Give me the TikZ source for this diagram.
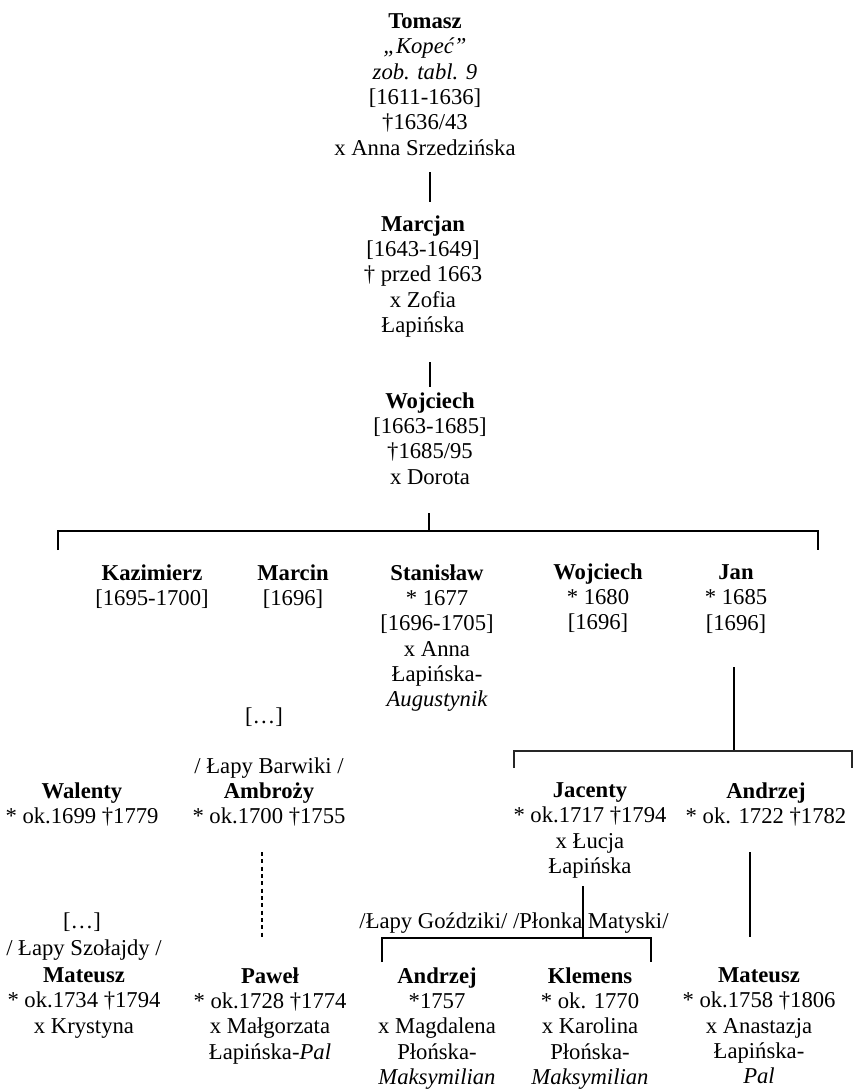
\documentclass[tikz,border=0pt]{standalone}
\usepackage{fontspec}
\setmainfont{Liberation Serif}
\begin{document}
\begin{tikzpicture}[x=0.75pt,y=-0.75pt,
  person/.style={align=center, anchor=north, inner sep=0pt, font=\fontsize{17}{19}\selectfont, execute at begin node=\strut},
  conn/.style={line width=0.9pt},
  bar/.style={line width=1.3pt},
  dashconn/.style={line width=0.9pt, dash pattern=on 3pt off 2.5pt}]
\useasboundingbox (0,0) rectangle (853,1089);
% persons
\node[person] (tomasz) at (425,13.3) {{\bfseries Tomasz}\\{\itshape „Kopeć”}\\{\itshape zob. tabl. 9}\\{[}1611-1636{]}\\†1636/43\\x Anna Srzedzińska};
\node[person] (marcjan) at (423,215.3) {{\bfseries Marcjan}\\{[}1643-1649{]}\\† przed 1663\\x Zofia\\Łapińska};
\node[person] (wojciech) at (430,392.3) {{\bfseries Wojciech}\\{[}1663-1685{]}\\†1685/95\\x Dorota};
\node[person] (kazimierz) at (152,564.3) {{\bfseries Kazimierz}\\{[}1695-1700{]}};
\node[person] (marcin) at (293,564.3) {{\bfseries Marcin}\\{[}1696{]}};
\node[person] (stanislaw) at (437,564.3) {{\bfseries Stanisław}\\* 1677\\{[}1696-1705{]}\\x Anna\\Łapińska-\\{\itshape Augustynik}};
\node[person] (wojciechb) at (598,563.3) {{\bfseries Wojciech}\\* 1680\\{[}1696{]}};
\node[person] (jan) at (736,564.3) {{\bfseries Jan}\\* 1685\\{[}1696{]}};
\node[person] (gapa) at (264,705.3) {{[}…{]}};
\node[person] (barwiki) at (269,755.3) {/ Łapy Barwiki /};
\node[person] (walenty) at (82,782.3) {{\bfseries Walenty}\\* ok.1699 †1779};
\node[person] (ambrozy) at (269,782.3) {{\bfseries Ambroży}\\* ok.1700 †1755};
\node[person] (jacenty) at (590,782.3) {{\bfseries Jacenty}\\* ok.1717 †1794\\x Łucja\\Łapińska};
\node[person] (andrzej) at (766,782.3) {{\bfseries Andrzej}\\* ok. 1722 †1782};
\node[person] (gozdziki) at (514,910.3) {/Łapy Goździki/ /Płonka Matyski/};
\node[person] (gapb) at (82,910.3) {{[}…{]}};
\node[person] (szolajdy) at (84,937.3) {/ Łapy Szołajdy /};
\node[person] (mateusza) at (84,967.3) {{\bfseries Mateusz}\\* ok.1734 †1794\\x Krystyna};
\node[person] (pawel) at (270,967.3) {{\bfseries Paweł}\\* ok.1728 †1774\\x Małgorzata\\Łapińska-{\itshape Pal}};
\node[person] (andrzejb) at (437,967.3) {{\bfseries Andrzej}\\*1757\\x Magdalena\\Płońska-\\{\itshape Maksymilian}};
\node[person] (klemens) at (590,967.3) {{\bfseries Klemens}\\* ok. 1770\\x Karolina\\Płońska-\\{\itshape Maksymilian}};
\node[person] (mateuszb) at (759,967.3) {{\bfseries Mateusz}\\* ok.1758 †1806\\x Anastazja\\Łapińska-\\{\itshape Pal}};
% connector points
\coordinate (t1) at (430,172); \coordinate (m0) at (430,202);
\coordinate (m1) at (430,362); \coordinate (w0) at (430,387);
\coordinate (w1) at (429,513); \coordinate (wj) at (429,531);
\coordinate (bl) at (58,531); \coordinate (br) at (818,531);
\coordinate (blt) at (58,550); \coordinate (brt) at (818,550);
\coordinate (j1) at (734,667); \coordinate (jj) at (734,751);
\coordinate (jl) at (514,751); \coordinate (jr) at (852,751);
\coordinate (jlt) at (514,768); \coordinate (jrt) at (852,768);
\coordinate (a1) at (262,852); \coordinate (p0) at (262,937);
\coordinate (an1) at (750,852); \coordinate (mb0) at (750,937);
\coordinate (jc1) at (583,886); \coordinate (jcj) at (583,938);
\coordinate (kl) at (382,938); \coordinate (kr) at (651,938);
\coordinate (klt) at (382,962); \coordinate (krt) at (651,962);
% connectors
\draw[conn] (t1) -- (m0);
\draw[conn] (m1) -- (w0);
\draw[conn] (w1) -- (wj);
\draw[bar] (blt) -- (bl) -- (br) -- (brt);
\draw[conn] (j1) -- (jj);
\draw[bar, black!85] (jlt) -- (jl) -- (jr) -- (jrt);
\draw[dashconn] (a1) -- (p0);
\draw[conn] (an1) -- (mb0);
\draw[conn] (jc1) -- (jcj);
\draw[bar] (klt) -- (kl) -- (kr) -- (krt);
\end{tikzpicture}
\end{document}
